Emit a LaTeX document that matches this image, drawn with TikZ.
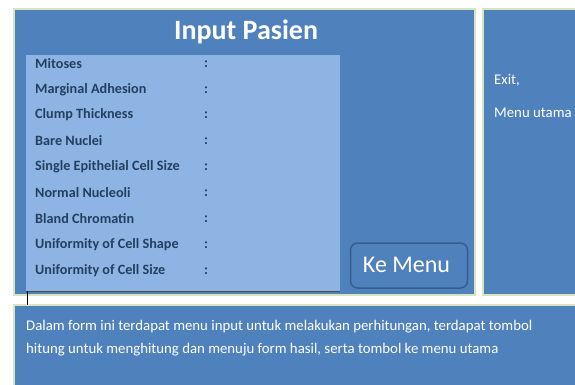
\documentclass[tikz,border=0pt]{standalone}
\usepackage{fontspec}
\setmainfont{Carlito}
\definecolor{panelblue}{HTML}{4F81BD}
\definecolor{lightpanel}{HTML}{8EB4E3}
\definecolor{rim}{HTML}{D7E4BD}
\definecolor{labeltext}{HTML}{243F60}
\definecolor{btnrim}{HTML}{385D8A}
\begin{document}
\begin{tikzpicture}[x=1pt,y=-1pt,
  panel/.style={fill=panelblue,draw=rim,line width=2.5pt},
  rowlabel/.style={anchor=west,inner sep=0pt,font=\fontsize{14.2}{16}\selectfont\bfseries,text=labeltext},
  colon/.style={anchor=west,inner sep=0pt,font=\fontsize{14.2}{16}\selectfont\bfseries,text=labeltext},
  whitetext/.style={anchor=west,inner sep=0pt,font=\fontsize{14.8}{17}\selectfont,text=white}]
\useasboundingbox (0,0) rectangle (575,385);
\fill[white] (0,0) rectangle (575,385);
% panels
\draw[panel] (14,9) rectangle (475,295);
\draw[panel] (483,9) rectangle (580,295);
\draw[panel] (14,305) rectangle (580,390);
% inner light panel
\fill[lightpanel] (26,55) rectangle (340,291);
\draw[black!70,line width=0.8pt] (26,291) -- (340,291);
\draw[black,line width=0.6pt] (27,291) -- (27,305);
% title
\node[font=\fontsize{28}{32}\selectfont\bfseries,text=white] (title) at (246,32) {Input Pasien};
% rows
\foreach \n/\t/\y in {r1/Mitoses/64, r2/Marginal Adhesion/90, r3/Clump Thickness/115, r4/Bare Nuclei/141, r5/Single Epithelial Cell Size/167, r6/Normal Nucleoli/193, r7/Bland Chromatin/219, r8/Uniformity of Cell Shape/245, r9/Uniformity of Cell Size/271}{
  \node[rowlabel] (\n) at (35,\y) {\t};
  \node[colon] (\n c) at (204,\y) {:};
}
% button
\node[draw=btnrim,line width=1.5pt,fill=panelblue,rounded corners=7pt,minimum width=117pt,minimum height=45pt] (kemenu) at (409,265.5) {};
\node[font=\fontsize{24}{28}\selectfont,text=white] (kmtext) at (406.5,265) {Ke Menu};
% right panel
\node[whitetext] (exit) at (494,80) {Exit,};
\node[whitetext] (menu) at (494,113) {Menu utama};
% bottom text
\node[whitetext] (d1) at (26,327) {Dalam form ini terdapat menu input untuk melakukan perhitungan, terdapat tombol};
\node[whitetext] (d2) at (26,350) {hitung untuk menghitung dan menuju form hasil, serta tombol ke menu utama};
\end{tikzpicture}
\end{document}
